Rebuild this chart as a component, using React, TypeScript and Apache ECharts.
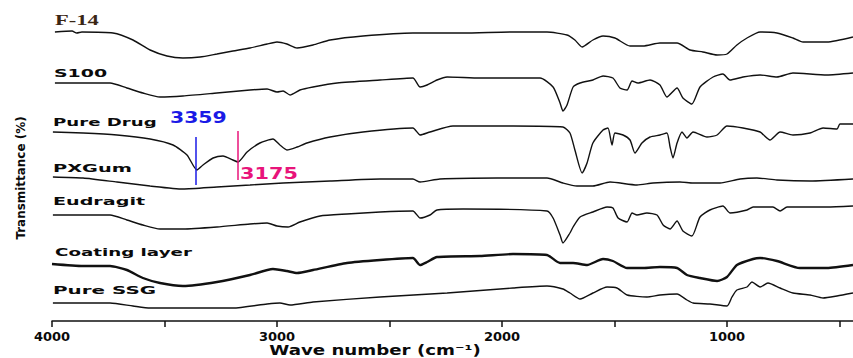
import React, { useEffect, useRef } from "react";
import * as echarts from "echarts";

// Each point: [wavenumber (cm-1), vertical offset (0 = top of plot, larger = lower)]
const f14: [number, number][] = [
  [3987, 32], [3911, 31], [3890, 33], [3867, 32], [3729, 33], [3640, 40], [3564, 50], [3489, 56],
  [3418, 58], [3342, 57], [3267, 54], [3196, 51], [3120, 48], [3044, 44], [3000, 42], [2956, 44],
  [2911, 48], [2840, 45], [2764, 40], [2618, 36], [2396, 33], [2173, 33], [1951, 32], [1800, 32],
  [1711, 35], [1676, 40], [1644, 47], [1596, 40], [1551, 36], [1498, 38], [1431, 46], [1373, 46],
  [1298, 43], [1222, 43], [1164, 50], [1107, 52], [1044, 55], [1000, 54], [956, 45], [911, 38],
  [853, 32], [778, 33], [707, 38], [662, 42], [556, 42], [440, 37],
];

const s100: [number, number][] = [
  [3987, 83], [3742, 83], [3667, 88], [3596, 93], [3520, 97], [3418, 96], [3267, 93], [3120, 90],
  [3044, 89], [3000, 92], [2973, 91], [2942, 95], [2898, 90], [2840, 87], [2733, 83], [2542, 80],
  [2396, 78], [2364, 87], [2333, 85], [2289, 80], [2244, 77], [2098, 78], [1831, 78], [1773, 87],
  [1742, 103], [1729, 111], [1711, 105], [1684, 87], [1653, 83], [1596, 80], [1551, 76], [1507, 78],
  [1476, 88], [1444, 90], [1422, 81], [1396, 83], [1342, 80], [1298, 85], [1267, 97], [1222, 88],
  [1196, 98], [1156, 104], [1120, 87], [1062, 77], [1018, 74], [987, 80], [929, 77], [853, 75],
  [778, 77], [707, 73], [556, 75], [440, 73],
];

const pureDrug: [number, number][] = [
  [3996, 132], [3862, 133], [3711, 135], [3564, 139], [3462, 145], [3400, 155], [3356, 170], [3329, 165],
  [3284, 158], [3240, 156], [3196, 160], [3173, 162], [3133, 152], [3076, 143], [3018, 139], [2987, 145],
  [2956, 150], [2911, 147], [2867, 143], [2764, 137], [2618, 132], [2396, 128], [2364, 135], [2320, 132],
  [2218, 126], [1951, 126], [1729, 127], [1698, 133], [1676, 150], [1644, 173], [1622, 163], [1596, 143],
  [1551, 130], [1529, 128], [1511, 145], [1498, 133], [1462, 135], [1431, 140], [1409, 153], [1378, 143],
  [1342, 137], [1298, 135], [1267, 133], [1253, 147], [1240, 158], [1222, 143], [1200, 132], [1178, 138],
  [1151, 132], [1089, 137], [1044, 135], [1000, 126], [929, 128], [853, 132], [809, 140], [764, 132],
  [707, 135], [631, 133], [573, 128], [511, 129], [498, 124], [440, 124],
];

const pxGum: [number, number][] = [
  [3996, 177], [3862, 178], [3711, 182], [3564, 186], [3418, 189], [3267, 187], [3120, 185], [2973, 183],
  [2764, 181], [2542, 179], [2396, 179], [2364, 182], [2276, 179], [2022, 178], [1800, 178], [1729, 183],
  [1667, 186], [1596, 186], [1520, 182], [1400, 185], [1329, 183], [1209, 182], [1151, 183], [1031, 183],
  [942, 179], [867, 178], [778, 180], [631, 181], [440, 179],
];

const eudragit: [number, number][] = [
  [3996, 215], [3742, 215], [3667, 220], [3596, 225], [3520, 229], [3418, 229], [3267, 227], [3120, 224],
  [3044, 223], [3000, 226], [2951, 227], [2898, 222], [2809, 216], [2689, 214], [2542, 212], [2396, 211],
  [2364, 218], [2320, 215], [2289, 210], [2173, 209], [1800, 211], [1773, 218], [1742, 235], [1729, 243],
  [1698, 233], [1684, 227], [1653, 217], [1596, 212], [1533, 207], [1507, 208], [1484, 218], [1444, 222],
  [1422, 213], [1400, 215], [1356, 213], [1311, 215], [1284, 225], [1253, 229], [1222, 221], [1196, 231],
  [1156, 236], [1120, 217], [1076, 210], [1018, 206], [987, 213], [911, 210], [884, 207], [796, 207],
  [764, 211], [733, 207], [556, 207], [440, 206],
];

const coatingLayer: [number, number][] = [
  [4000, 264], [3862, 266], [3742, 266], [3667, 270], [3596, 278], [3520, 283], [3418, 286], [3267, 282],
  [3120, 275], [3018, 269], [2956, 271], [2911, 273], [2840, 270], [2689, 263], [2542, 260], [2396, 258],
  [2364, 265], [2333, 262], [2289, 257], [2098, 256], [1951, 254], [1800, 255], [1742, 263], [1684, 263],
  [1622, 265], [1551, 259], [1507, 261], [1444, 268], [1373, 268], [1298, 267], [1222, 268], [1178, 275],
  [1120, 278], [1044, 281], [1000, 277], [956, 265], [884, 259], [853, 258], [778, 261], [676, 268],
  [556, 268], [440, 265],
];

const pureSSG: [number, number][] = [
  [3996, 303], [3742, 303], [3640, 306], [3564, 308], [3418, 308], [3196, 308], [3044, 304], [2987, 303],
  [2942, 305], [2840, 302], [2542, 297], [2244, 293], [1951, 288], [1800, 286], [1729, 289], [1698, 293],
  [1653, 299], [1596, 293], [1533, 287], [1489, 288], [1444, 295], [1356, 297], [1298, 295], [1222, 294],
  [1178, 300], [1151, 303], [1076, 304], [1000, 306], [978, 297], [956, 290], [911, 287], [889, 282],
  [853, 287], [818, 283], [764, 288], [707, 293], [631, 295], [573, 298], [511, 296], [440, 293],
];

const seriesNames = ["F-14", "S100", "Pure Drug", "PXGum", "Eudragit", "Coating layer", "Pure SSG"];
const seriesData = [f14, s100, pureDrug, pxGum, eudragit, coatingLayer, pureSSG];

// peak markers on the Pure Drug trace: [wavenumber, top offset, bottom offset]
const peak3359: [number, number, number] = [3359, 137, 185];
const peak3175: [number, number, number] = [3175, 131, 180];

const xTickLabels = [4000, 3000, 2000, 1000];

export default function App() {
  const ref = useRef<HTMLDivElement>(null);

  useEffect(() => {
    document.body.style.margin = "0";
    if (!ref.current) return;
    const chart = echarts.init(ref.current, undefined, { renderer: "svg" });

    const sans = "DejaVu Sans";
    const label = (text: string, x: number, y: number, sx: number, size = 11, fill = "#0a0a0a", family = sans) => ({
      type: "text",
      x,
      y,
      scaleX: sx,
      style: {
        text,
        fill,
        font: `bold ${size}px "${family}"`,
        textAlign: "left",
        textVerticalAlign: "middle",
      },
      silent: true,
    });

    const series: any[] = seriesData.map((d, i) => ({
      name: seriesNames[i],
      type: "line",
      data: d,
      showSymbol: false,
      symbol: "none",
      smooth: 0.2,
      clip: true,
      lineStyle: { color: "#111", width: i === 5 ? 2.4 : 1.4 },
      z: 2,
    }));

    series[2].markLine = {
      silent: true,
      symbol: "none",
      label: { show: false },
      animation: false,
      data: [
        [
          { coord: [peak3359[0], peak3359[1]], lineStyle: { color: "#1a1ae6", width: 1.5, type: "solid" } },
          { coord: [peak3359[0], peak3359[2]] },
        ],
        [
          { coord: [peak3175[0], peak3175[1]], lineStyle: { color: "#e8147a", width: 1.5, type: "solid" } },
          { coord: [peak3175[0], peak3175[2]] },
        ],
      ],
    };

    chart.setOption({
      animation: false,
      backgroundColor: "#fff",
      grid: {
        left: 52,
        width: 900,
        top: 0,
        height: 321,
        containLabel: false,
        outerBoundsMode: "none",
      },
      xAxis: {
        type: "value",
        inverse: true,
        min: 0,
        max: 4000,
        interval: 500,
        axisLine: { show: true, onZero: false, lineStyle: { color: "#111", width: 1.5 } },
        axisTick: { show: true, length: 6, lineStyle: { color: "#111", width: 1.5 } },
        splitLine: { show: false },
        axisLabel: {
          margin: 9,
          fontSize: 13,
          fontWeight: "bold",
          fontFamily: sans,
          color: "#0a0a0a",
          formatter: (v: number) => (xTickLabels.includes(v) ? String(v) : ""),
        },
      },
      yAxis: {
        type: "value",
        inverse: true,
        min: 0,
        max: 321,
        show: false,
      },
      series,
      graphic: [
        label("F-14", 55, 20, 1.5, 15, "#3a2614", "Liberation Serif"),
        label("S100", 54, 73, 1.72),
        label("Pure Drug", 53, 122, 1.65),
        label("PXGum", 53, 168, 1.76),
        label("Eudragit", 53, 201, 1.74),
        label("Coating layer", 55, 252, 1.66),
        label("Pure SSG", 53, 290, 1.81),
        label("3359", 170, 117.5, 1.36, 15, "#1a1ae6"),
        label("3175", 240, 173.5, 1.3, 16, "#e8147a"),
        {
          type: "text",
          x: 375,
          y: 350,
          scaleX: 1.3,
          silent: true,
          style: {
            text: "Wave number (cm⁻¹)",
            fill: "#0a0a0a",
            font: `bold 14px "${sans}"`,
            textAlign: "center",
            textVerticalAlign: "middle",
          },
        },
        {
          type: "text",
          x: 20,
          y: 178,
          rotation: Math.PI / 2,
          scaleX: 0.92,
          silent: true,
          style: {
            text: "Transmittance (%)",
            fill: "#0a0a0a",
            font: `bold 13px "${sans}"`,
            textAlign: "center",
            textVerticalAlign: "middle",
          },
        },
      ],
    });

    return () => chart.dispose();
  }, []);

  return <div ref={ref} style={{ width: 853, height: 358 }} />;
}
